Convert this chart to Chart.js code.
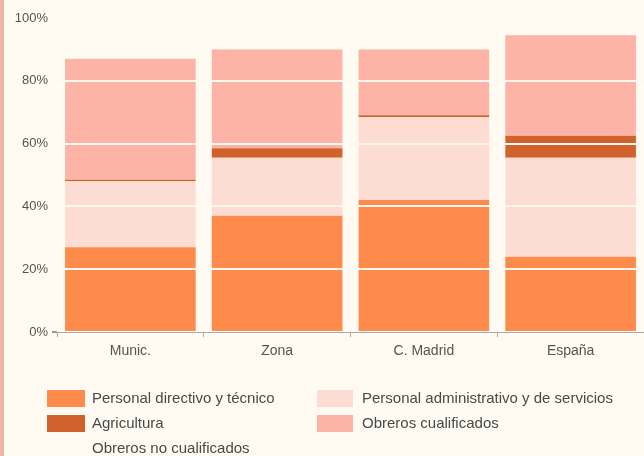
<!DOCTYPE html>
<html>
<head>
<meta charset="utf-8">
<script src="https://cdn.jsdelivr.net/npm/chart.js@4"></script>
<style>
  html, body { margin: 0; padding: 0; background: #FFFBF2; }
  #wrap { position: relative; width: 644px; height: 456px; overflow: hidden; background: #FFFBF2; }
  #strip { position: absolute; left: 0; top: 0; width: 4px; height: 456px; background: #F1B3AA; }
  canvas { position: absolute; left: 0; top: 0; }
  .lg { position: absolute; font-family: 'Liberation Sans', Arial, sans-serif; font-size: 15px; color: #4a4a4a; white-space: nowrap; line-height: 17px; }
  .sw { position: absolute; height: 17px; }
</style>
</head>
<body>
<div id="wrap">
  <div id="strip"></div>
  <canvas id="c" width="644" height="456"></canvas>
  <div id="legend"></div>
</div>
<script>
const categories = ['Munic.', 'Zona', 'C. Madrid', 'España'];
const seriesNames = ['Personal directivo y técnico', 'Personal administrativo y de servicios', 'Agricultura', 'Obreros cualificados', 'Obreros no cualificados'];
const directivo = [27, 37, 42, 24];
const administrativo = [21, 18.5, 26.5, 31.5];
const agricultura = [0.5, 3, 0.5, 7];
const cualificados = [38.5, 31.5, 21, 32];
const noCualificados = [13, 10, 10, 5.5];
const yTicks = [0, 20, 40, 60, 80, 100];

const colors = ['#FE8A4B', '#FDDDD3', '#D2622D', '#FDB4A6', '#FFFBF2'];
const values = [directivo, administrativo, agricultura, cualificados, noCualificados];

Chart.defaults.font.family = "'Liberation Sans', Arial, sans-serif";
Chart.defaults.color = '#555';

new Chart(document.getElementById('c'), {
  type: 'bar',
  data: {
    labels: categories,
    datasets: seriesNames.map((n, i) => ({
      label: n,
      data: values[i],
      backgroundColor: colors[i],
      borderWidth: 0,
      barPercentage: 0.89,
      categoryPercentage: 1.0
    }))
  },
  options: {
    responsive: false,
    animation: false,
    layout: { padding: { top: 18, left: 0, right: 0, bottom: 94 } },
    plugins: { legend: { display: false }, tooltip: { enabled: false } },
    scales: {
      x: {
        stacked: true,
        afterFit: s => { s.height = 30; },
        border: { display: true, color: '#aaa', width: 1, z: 2 },
        grid: { drawOnChartArea: false, drawTicks: true, tickLength: 5, color: '#aaa' },
        ticks: { font: { size: 14 }, color: '#555', padding: 6 }
      },
      y: {
        stacked: true,
        min: 0, max: 100,
        afterFit: s => { s.width = 57; },
        afterBuildTicks: s => { s.ticks = yTicks.map(v => ({ value: v })); },
        border: { display: false },
        grid: {
          z: 1,
          lineWidth: 2,
          color: c => (c.tick && (c.tick.value === 0 || c.tick.value === 100)) ? 'rgba(0,0,0,0)' : '#FFF8F0',
          tickColor: c => (c.tick && c.tick.value === 0) ? '#999' : 'rgba(0,0,0,0)',
          tickLength: 5
        },
        ticks: { font: { size: 13 }, color: '#555', padding: 4, callback: v => v + '%' }
      }
    }
  }
});

// HTML legend built from the series names and colours
const legendPos = [
  { idx: 0, col: 0, row: 0 },
  { idx: 2, col: 0, row: 1 },
  { idx: 4, col: 0, row: 2 },
  { idx: 1, col: 1, row: 0 },
  { idx: 3, col: 1, row: 1 }
];
const colX = [{ sw: 47, sww: 38, tx: 92 }, { sw: 317, sww: 36, tx: 362 }];
const rowY = [398, 423, 448];
const lg = document.getElementById('legend');
legendPos.forEach(p => {
  const sw = document.createElement('div');
  sw.className = 'sw';
  sw.style.left = colX[p.col].sw + 'px';
  sw.style.width = colX[p.col].sww + 'px';
  sw.style.top = (rowY[p.row] - 8.5) + 'px';
  sw.style.background = colors[p.idx];
  lg.appendChild(sw);
  const t = document.createElement('div');
  t.className = 'lg';
  t.style.left = colX[p.col].tx + 'px';
  t.style.top = (rowY[p.row] - 9) + 'px';
  t.textContent = seriesNames[p.idx];
  lg.appendChild(t);
});
</script>
</body>
</html>
